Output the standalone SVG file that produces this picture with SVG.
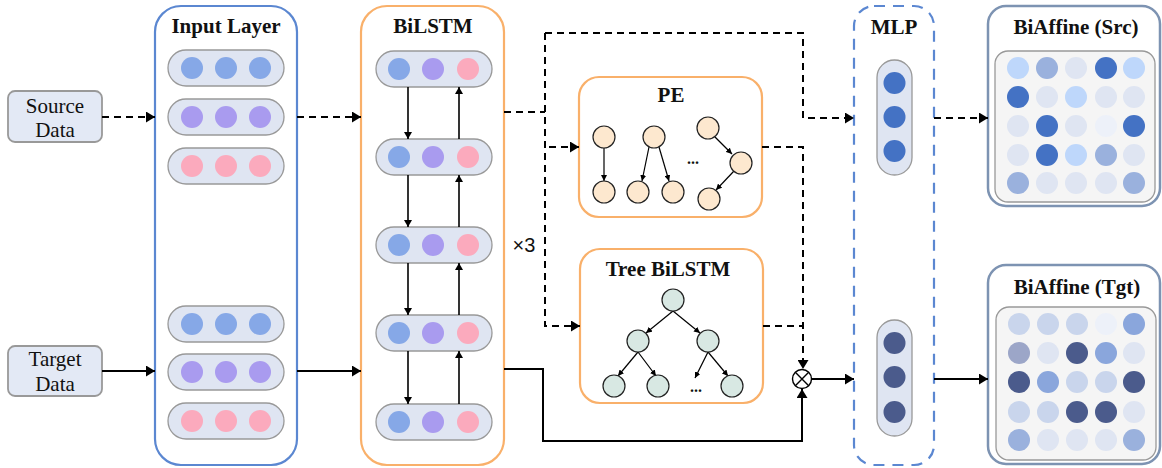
<svg xmlns="http://www.w3.org/2000/svg" width="1162" height="468" viewBox="0 0 1162 468">
<defs>
<style>
.title{font-family:"Liberation Serif","Times New Roman",serif;font-weight:bold;font-size:21px;text-anchor:middle;fill:#111}
.lbl{font-family:"Liberation Serif","Times New Roman",serif;font-size:21px;text-anchor:middle;fill:#111}
.pill{fill:#dfe5f2;stroke:#999;stroke-width:1.3}
.data{fill:#e3e9f5;stroke:#999;stroke-width:1.8}
.cb{fill:#86a8e7}.cp{fill:#a99bef}.ck{fill:#fbaabd}
.pe{fill:#fde8cf;stroke:#222;stroke-width:1.2}
.tr{fill:#d8e8e3;stroke:#222;stroke-width:1.2}
.c{stroke:#000;stroke-width:2;fill:none}
.d{stroke:#000;stroke-width:2;fill:none;stroke-dasharray:7 5}
.s{stroke:#000;stroke-width:1.6;fill:none}
.t{stroke:#000;stroke-width:1.2;fill:none}
.grid{fill:#f5f5f5;stroke:#999;stroke-width:1.3}
.ba{fill:#fff;stroke:#7d93b2;stroke-width:2.5}
</style>
<marker id="ah" markerUnits="userSpaceOnUse" markerWidth="9" markerHeight="11" refX="9" refY="5.5" orient="auto"><path d="M0,0 L9,5.5 L0,11 z" fill="#000"/></marker>
<marker id="as" markerUnits="userSpaceOnUse" markerWidth="7" markerHeight="8" refX="7" refY="4" orient="auto"><path d="M0,0 L7,4 L0,8 z" fill="#000"/></marker>
<marker id="at" markerUnits="userSpaceOnUse" markerWidth="6" markerHeight="6" refX="6" refY="3" orient="auto"><path d="M0,0 L6,3 L0,6 z" fill="#000"/></marker>
</defs>
<rect width="1162" height="468" fill="#fff"/>

<g id="source-data">
<rect class="data" x="8" y="91" width="94" height="51" rx="7"/>
<text class="lbl" x="55" y="113">Source</text>
<text class="lbl" x="55" y="137">Data</text>
</g>
<g id="target-data">
<rect class="data" x="8" y="346" width="94" height="50" rx="7"/>
<text class="lbl" x="55" y="366">Target</text>
<text class="lbl" x="55" y="391">Data</text>
</g>

<g id="input-layer">
<rect x="155" y="6" width="142" height="459" rx="26" fill="#fff" stroke="#5b87d1" stroke-width="2.2"/>
<text class="title" x="226" y="33">Input Layer</text>
<rect class="pill" x="168" y="50" width="116" height="36" rx="18"/>
<circle class="cb" cx="192" cy="68" r="11"/><circle class="cb" cx="226" cy="68" r="11"/><circle class="cb" cx="260" cy="68" r="11"/>
<rect class="pill" x="168" y="99" width="116" height="36" rx="18"/>
<circle class="cp" cx="192" cy="117" r="11"/><circle class="cp" cx="226" cy="117" r="11"/><circle class="cp" cx="260" cy="117" r="11"/>
<rect class="pill" x="168" y="148" width="116" height="36" rx="18"/>
<circle class="ck" cx="192" cy="166" r="11"/><circle class="ck" cx="226" cy="166" r="11"/><circle class="ck" cx="260" cy="166" r="11"/>
<rect class="pill" x="168" y="306" width="116" height="36" rx="18"/>
<circle class="cb" cx="192" cy="324" r="11"/><circle class="cb" cx="226" cy="324" r="11"/><circle class="cb" cx="260" cy="324" r="11"/>
<rect class="pill" x="168" y="354" width="116" height="36" rx="18"/>
<circle class="cp" cx="192" cy="372" r="11"/><circle class="cp" cx="226" cy="372" r="11"/><circle class="cp" cx="260" cy="372" r="11"/>
<rect class="pill" x="168" y="403" width="116" height="36" rx="18"/>
<circle class="ck" cx="192" cy="421" r="11"/><circle class="ck" cx="226" cy="421" r="11"/><circle class="ck" cx="260" cy="421" r="11"/>
</g>

<g id="bilstm">
<rect x="361" y="6" width="143" height="459" rx="26" fill="#fff" stroke="#f9b06a" stroke-width="2.2"/>
<text class="title" x="433" y="33">BiLSTM</text>
<rect class="pill" x="376" y="51" width="116" height="36" rx="18"/>
<circle class="cb" cx="399" cy="69" r="11"/><circle class="cp" cx="433" cy="69" r="11"/><circle class="ck" cx="468" cy="69" r="11"/>
<rect class="pill" x="376" y="139" width="116" height="36" rx="18"/>
<circle class="cb" cx="399" cy="157" r="11"/><circle class="cp" cx="433" cy="157" r="11"/><circle class="ck" cx="468" cy="157" r="11"/>
<rect class="pill" x="376" y="227" width="116" height="36" rx="18"/>
<circle class="cb" cx="399" cy="245" r="11"/><circle class="cp" cx="433" cy="245" r="11"/><circle class="ck" cx="468" cy="245" r="11"/>
<rect class="pill" x="376" y="315" width="116" height="36" rx="18"/>
<circle class="cb" cx="399" cy="333" r="11"/><circle class="cp" cx="433" cy="333" r="11"/><circle class="ck" cx="468" cy="333" r="11"/>
<rect class="pill" x="376" y="404" width="116" height="36" rx="18"/>
<circle class="cb" cx="399" cy="422" r="11"/><circle class="cp" cx="433" cy="422" r="11"/><circle class="ck" cx="468" cy="422" r="11"/>
<path class="s" marker-end="url(#as)" d="M408,87 V139"/>
<path class="s" marker-end="url(#as)" d="M408,175 V227"/>
<path class="s" marker-end="url(#as)" d="M408,263 V315"/>
<path class="s" marker-end="url(#as)" d="M408,351 V404"/>
<path class="s" marker-end="url(#as)" d="M459,139 V87"/>
<path class="s" marker-end="url(#as)" d="M459,227 V175"/>
<path class="s" marker-end="url(#as)" d="M459,315 V263"/>
<path class="s" marker-end="url(#as)" d="M459,404 V351"/>
</g>

<text x="524" y="252" font-family="'Liberation Sans',Arial,sans-serif" font-size="20" text-anchor="middle" fill="#111">×3</text>

<g id="pe">
<rect x="579" y="77" width="183" height="140" rx="20" fill="#fff" stroke="#f9b06a" stroke-width="2.2"/>
<text class="title" x="671" y="102">PE</text>
<path class="t" marker-end="url(#at)" d="M604,148 V181"/>
<path class="t" marker-end="url(#at)" d="M649,147 L642,181"/>
<path class="t" marker-end="url(#at)" d="M659,147 L669,181"/>
<path class="t" marker-end="url(#at)" d="M715,137 L732,154"/>
<path class="t" marker-end="url(#at)" d="M734,171 L716,190"/>
<circle class="pe" cx="604" cy="137" r="11"/>
<circle class="pe" cx="604" cy="192" r="11"/>
<circle class="pe" cx="654" cy="137" r="11"/>
<circle class="pe" cx="638" cy="192" r="11"/>
<circle class="pe" cx="673" cy="192" r="11"/>
<circle class="pe" cx="708" cy="128" r="11"/>
<circle class="pe" cx="741" cy="163" r="11"/>
<circle class="pe" cx="709" cy="199" r="11"/>
<text x="693" y="164" font-family="'Liberation Serif',serif" font-weight="bold" font-size="16" text-anchor="middle" fill="#111">...</text>
</g>

<g id="tree-bilstm">
<rect x="580" y="249" width="183" height="154" rx="20" fill="#fff" stroke="#f9b06a" stroke-width="2.2"/>
<text class="title" x="668" y="276">Tree BiLSTM</text>
<path class="t" marker-end="url(#at)" d="M673,311 L646,333"/>
<path class="t" marker-end="url(#at)" d="M673,311 L700,333"/>
<path class="t" marker-end="url(#at)" d="M638,352 L618,376"/>
<path class="t" marker-end="url(#at)" d="M638,352 L656,376"/>
<path class="t" marker-end="url(#at)" d="M708,352 L695,378"/>
<path class="t" marker-end="url(#at)" d="M708,352 L728,376"/>
<circle class="tr" cx="673" cy="300" r="11"/>
<circle class="tr" cx="638" cy="341" r="11"/>
<circle class="tr" cx="708" cy="341" r="11"/>
<circle class="tr" cx="614" cy="386" r="11"/>
<circle class="tr" cx="658" cy="386" r="11"/>
<circle class="tr" cx="732" cy="386" r="11"/>
<text x="696" y="392" font-family="'Liberation Serif',serif" font-weight="bold" font-size="16" text-anchor="middle" fill="#111">...</text>
</g>

<g id="otimes">
<circle cx="802" cy="379" r="9.5" fill="#fff" stroke="#000" stroke-width="1.4"/>
<path d="M795.3,372.3 L808.7,385.7 M808.7,372.3 L795.3,385.7" stroke="#000" stroke-width="1.4"/>
</g>

<g id="mlp">
<rect x="854" y="6" width="80" height="459" rx="20" fill="#fff" stroke="#5b87d1" stroke-width="2.2" stroke-dasharray="11 8"/>
<text class="title" x="894" y="34">MLP</text>
<rect class="pill" x="877" y="60" width="35" height="115" rx="17.5"/>
<circle cx="894.5" cy="83" r="11" fill="#4472c4"/><circle cx="894.5" cy="117" r="11" fill="#4472c4"/><circle cx="894.5" cy="151" r="11" fill="#4472c4"/>
<rect class="pill" x="877" y="320" width="35" height="116" rx="17.5"/>
<circle cx="894.5" cy="343" r="11" fill="#4b5b8c"/><circle cx="894.5" cy="377" r="11" fill="#4b5b8c"/><circle cx="894.5" cy="412" r="11" fill="#4b5b8c"/>
</g>

<g id="biaffine-src">
<rect class="ba" x="988" y="6" width="172" height="200" rx="18"/>
<text class="title" x="1076" y="34">BiAffine (Src)</text>
<rect class="grid" x="995" y="51" width="160" height="151" rx="13"/>
<circle cx="1018" cy="68" r="11" fill="#bed7fb"/><circle cx="1047" cy="68" r="11" fill="#9ab1dd"/><circle cx="1076" cy="68" r="11" fill="#dfe5f2"/><circle cx="1106" cy="68" r="11" fill="#4472c4"/><circle cx="1134" cy="68" r="11" fill="#bed7fb"/>
<circle cx="1018" cy="97" r="11" fill="#4472c4"/><circle cx="1047" cy="97" r="11" fill="#dfe5f2"/><circle cx="1076" cy="97" r="11" fill="#bed7fb"/><circle cx="1106" cy="97" r="11" fill="#dfe5f2"/><circle cx="1134" cy="97" r="11" fill="#dfe5f2"/>
<circle cx="1018" cy="126" r="11" fill="#dfe5f2"/><circle cx="1047" cy="126" r="11" fill="#4472c4"/><circle cx="1076" cy="126" r="11" fill="#dfe5f2"/><circle cx="1106" cy="126" r="11" fill="#edf1f9"/><circle cx="1134" cy="126" r="11" fill="#4472c4"/>
<circle cx="1018" cy="155" r="11" fill="#dfe5f2"/><circle cx="1047" cy="155" r="11" fill="#4472c4"/><circle cx="1076" cy="155" r="11" fill="#bed7fb"/><circle cx="1106" cy="155" r="11" fill="#9ab1dd"/><circle cx="1134" cy="155" r="11" fill="#dfe5f2"/>
<circle cx="1018" cy="183" r="11" fill="#9ab1dd"/><circle cx="1047" cy="183" r="11" fill="#dfe5f2"/><circle cx="1076" cy="183" r="11" fill="#dfe5f2"/><circle cx="1106" cy="183" r="11" fill="#dfe5f2"/><circle cx="1134" cy="183" r="11" fill="#9ab1dd"/>
</g>

<g id="biaffine-tgt">
<rect class="ba" x="988" y="265" width="172" height="199" rx="18"/>
<text class="title" x="1077" y="294">BiAffine (Tgt)</text>
<rect class="grid" x="996" y="307" width="160" height="153" rx="13"/>
<circle cx="1019" cy="324" r="11" fill="#c9d5ec"/><circle cx="1048" cy="324" r="11" fill="#c9d5ec"/><circle cx="1077" cy="324" r="11" fill="#c9d5ec"/><circle cx="1106" cy="324" r="11" fill="#edf1f9"/><circle cx="1134" cy="324" r="11" fill="#8aa6dc"/>
<circle cx="1019" cy="353" r="11" fill="#9ca6c8"/><circle cx="1048" cy="353" r="11" fill="#dfe5f2"/><circle cx="1077" cy="353" r="11" fill="#4b5b8c"/><circle cx="1106" cy="353" r="11" fill="#8aa6dc"/><circle cx="1134" cy="353" r="11" fill="#dfe5f2"/>
<circle cx="1019" cy="382" r="11" fill="#4b5b8c"/><circle cx="1048" cy="382" r="11" fill="#8aa6dc"/><circle cx="1077" cy="382" r="11" fill="#c9d5ec"/><circle cx="1106" cy="382" r="11" fill="#c9d5ec"/><circle cx="1134" cy="382" r="11" fill="#4b5b8c"/>
<circle cx="1019" cy="412" r="11" fill="#c9d5ec"/><circle cx="1048" cy="412" r="11" fill="#c9d5ec"/><circle cx="1077" cy="412" r="11" fill="#4b5b8c"/><circle cx="1106" cy="412" r="11" fill="#4b5b8c"/><circle cx="1134" cy="412" r="11" fill="#dfe5f2"/>
<circle cx="1019" cy="440" r="11" fill="#9ab1dd"/><circle cx="1048" cy="440" r="11" fill="#dfe5f2"/><circle cx="1077" cy="440" r="11" fill="#dfe5f2"/><circle cx="1106" cy="440" r="11" fill="#dfe5f2"/><circle cx="1134" cy="440" r="11" fill="#9ab1dd"/>
</g>

<g id="connectors">
<path class="d" marker-end="url(#ah)" d="M102,117 H155"/>
<path class="c" marker-end="url(#ah)" d="M102,371 H155"/>
<path class="d" marker-end="url(#ah)" d="M297,117 H361"/>
<path class="c" marker-end="url(#ah)" d="M297,371 H361"/>
<path class="d" d="M504,112 H545"/>
<path class="d" marker-end="url(#ah)" d="M545,33 V326 H580"/>
<path class="d" marker-end="url(#ah)" d="M549,147 H579"/>
<path class="d" marker-end="url(#ah)" d="M545,33 H803 V118 H854"/>
<path class="d" marker-end="url(#ah)" d="M762,147 H803 V369"/>
<path class="d" d="M763,326 H803"/>
<path class="c" marker-end="url(#ah)" d="M504,369 H543 V441 H802 V389"/>
<path class="c" marker-end="url(#ah)" d="M812,379 H854"/>
<path class="d" marker-end="url(#ah)" d="M934,118 H988"/>
<path class="c" marker-end="url(#ah)" d="M934,379 H988"/>
</g>
</svg>
